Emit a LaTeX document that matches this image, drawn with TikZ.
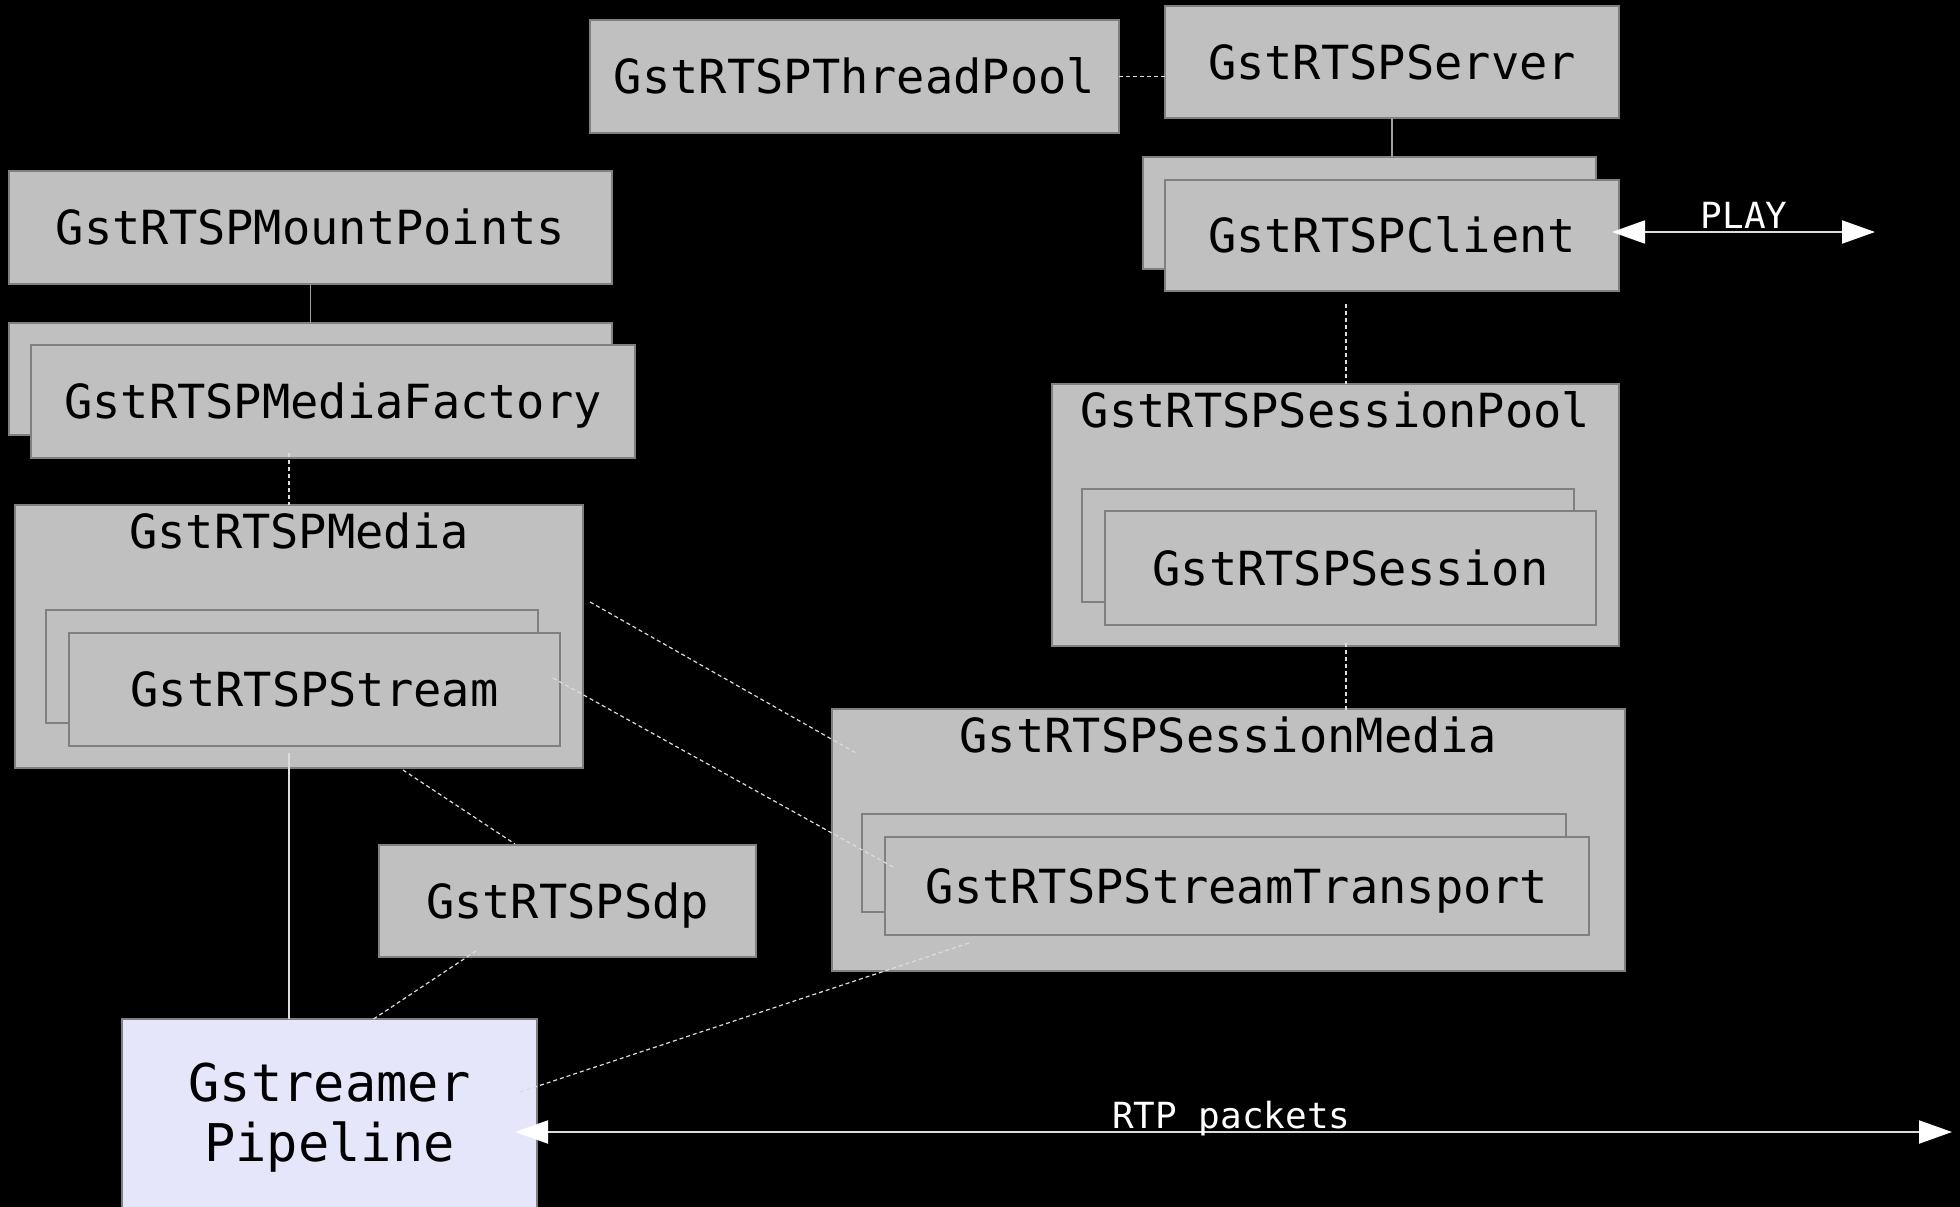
\documentclass[tikz,border=0pt]{standalone}
\usepackage{fontspec}
\usetikzlibrary{arrows.meta,calc}
\newfontfamily\dvmono{DejaVu Sans Mono}
\definecolor{boxfill}{HTML}{C0C0C0}
\definecolor{boxline}{HTML}{808080}
\definecolor{pipefill}{HTML}{E6E6FA}
\definecolor{lineA}{HTML}{A0A0A0}
\definecolor{lineB}{HTML}{DCDCDC}
\begin{document}
\begin{tikzpicture}[x=1pt,y=-1pt,
  sz/.style 2 args={minimum width=#1pt, minimum height=#2pt},
  gbox/.style={draw=boxline, fill=boxfill, line width=1.5pt, inner sep=0pt, outer sep=0pt,
    font=\dvmono\fontsize{47}{56}\selectfont, text height=34pt, text depth=0pt},
  pbox/.style={draw=boxline, fill=pipefill, line width=1.5pt, inner sep=0pt, outer sep=0pt,
    font=\dvmono\fontsize{52}{60}\selectfont, align=center, text height=95pt, text depth=0pt},
  ttl/.style={font=\dvmono\fontsize{47}{56}\selectfont, anchor=base, inner sep=0pt, text=black},
  lbl/.style={font=\dvmono\fontsize{36}{40}\selectfont, inner sep=0pt, text=white},
  solidA/.style={draw=lineA, line width=1.5pt},
  solidB/.style={draw=lineB, line width=1.3pt},
  dashline/.style={draw=lineB, line width=1.2pt, dash pattern=on 4pt off 3pt},
  arr/.style={draw=lineB, line width=2pt, {Triangle[length=33pt,width=23pt,fill=white,color=white]}-{Triangle[length=33pt,width=23pt,fill=white,color=white]}}
]
\fill[black] (0,0) rectangle (1960,1207);
\useasboundingbox (0,0) rectangle (1960,1207);

% top
\node[gbox, sz={529}{113}] (threadpool) at (854.5,76.5) {GstRTSPThreadPool};
\node[gbox, sz={454}{112}] (server) at (1392,62) {GstRTSPServer};
\node[gbox, sz={453}{112}] (clientback) at (1369.5,213) {};
\node[gbox, sz={454}{111}] (client) at (1392,235.5) {GstRTSPClient};

% left column
\node[gbox, sz={603}{113}] (mount) at (310.5,227.5) {GstRTSPMountPoints};
\node[gbox, sz={603}{112}] (factoryback) at (310.5,379) {};
\node[gbox, sz={604}{113}] (factory) at (333,401.5) {GstRTSPMediaFactory};

\node[gbox, sz={568}{263}] (media) at (299,636.5) {};
\node[ttl] (mediat) at ([yshift=-43pt]media.north) {GstRTSPMedia};
\node[gbox, sz={492}{113}] (streamback) at (292,666.5) {};
\node[gbox, sz={491}{113}] (stream) at (314.5,689.5) {GstRTSPStream};

% right column
\node[gbox, sz={567}{262}] (sesspool) at (1335.5,515) {};
\node[ttl] (sesspoolt) at ([yshift=-43pt]sesspool.north) {GstRTSPSessionPool};
\node[gbox, sz={492}{113}] (sessionback) at (1328,545.5) {};
\node[gbox, sz={491}{114}] (session) at (1350.5,568) {GstRTSPSession};

\node[gbox, sz={793}{262}] (sessmedia) at (1228.5,840) {};
\node[ttl] (sessmediat) at ([yshift=-43pt]sessmedia.north) {GstRTSPSessionMedia};
\node[gbox, sz={704}{98}] (transback) at (1214,863) {};
\node[gbox, sz={704}{98}] (trans) at (1237,886) {GstRTSPStreamTransport};

\node[gbox, sz={377}{112}] (sdp) at (567.5,901) {GstRTSPSdp};

\node[pbox, sz={415}{190}] (pipeline) at (329.5,1114) {Gstreamer\\Pipeline};

% connectors
\draw[dashline] (threadpool.east) -- (threadpool.east -| server.west);
\draw[solidA] (server.south) -- (server.south |- clientback.north);
\draw[solidA] (mount.south) -- (factoryback.north);
\draw[dashline] ($(factory.south)+(-44,-5)$) -- ($(media.north)+(-10,0)$);
\draw[solidB] ($(stream.south)+(-25.5,7)$) -- ($(pipeline.north)+(-40.5,0)$);
\draw[dashline] ($(client.south)+(-46,13)$) -- ($(sesspool.north)+(10.5,0)$);
\draw[dashline] ($(sesspool.south)+(10.5,-3)$) -- ($(sessmedia.north)+(117.5,4)$);
\draw[dashline] ($(media.east)+(7,-34.5)$) -- ($(sessmedia.west)+(24,-87)$);
\draw[dashline] ($(stream.east)+(-7,-11.5)$) -- ($(trans.west)+(8,-19)$);
\draw[dashline] ($(stream.south)+(88.5,24)$) -- ($(sdp.north)+(-52.5,-1)$);
\draw[dashline] ($(sdp.south)+(-91.5,-6)$) -- ($(pipeline.north)+(42.5,1)$);
\draw[dashline] ($(trans.south)+(-268,8)$) -- ($(pipeline.east)+(-17,-22)$);

% arrows
\coordinate (playend) at (1875,232);
\coordinate (rtpend) at (1952,1132);
\draw[arr] ($(client.east)+(-7,-3.5)$) -- (playend);
\draw[arr] ($(pipeline.east)+(-22,18)$) -- (rtpend);
\node[lbl, anchor=base] (playlbl) at (1744,228) {PLAY};
\node[lbl, anchor=base west] (rtplbl) at (1112,1128) {RTP packets};
\end{tikzpicture}
\end{document}
